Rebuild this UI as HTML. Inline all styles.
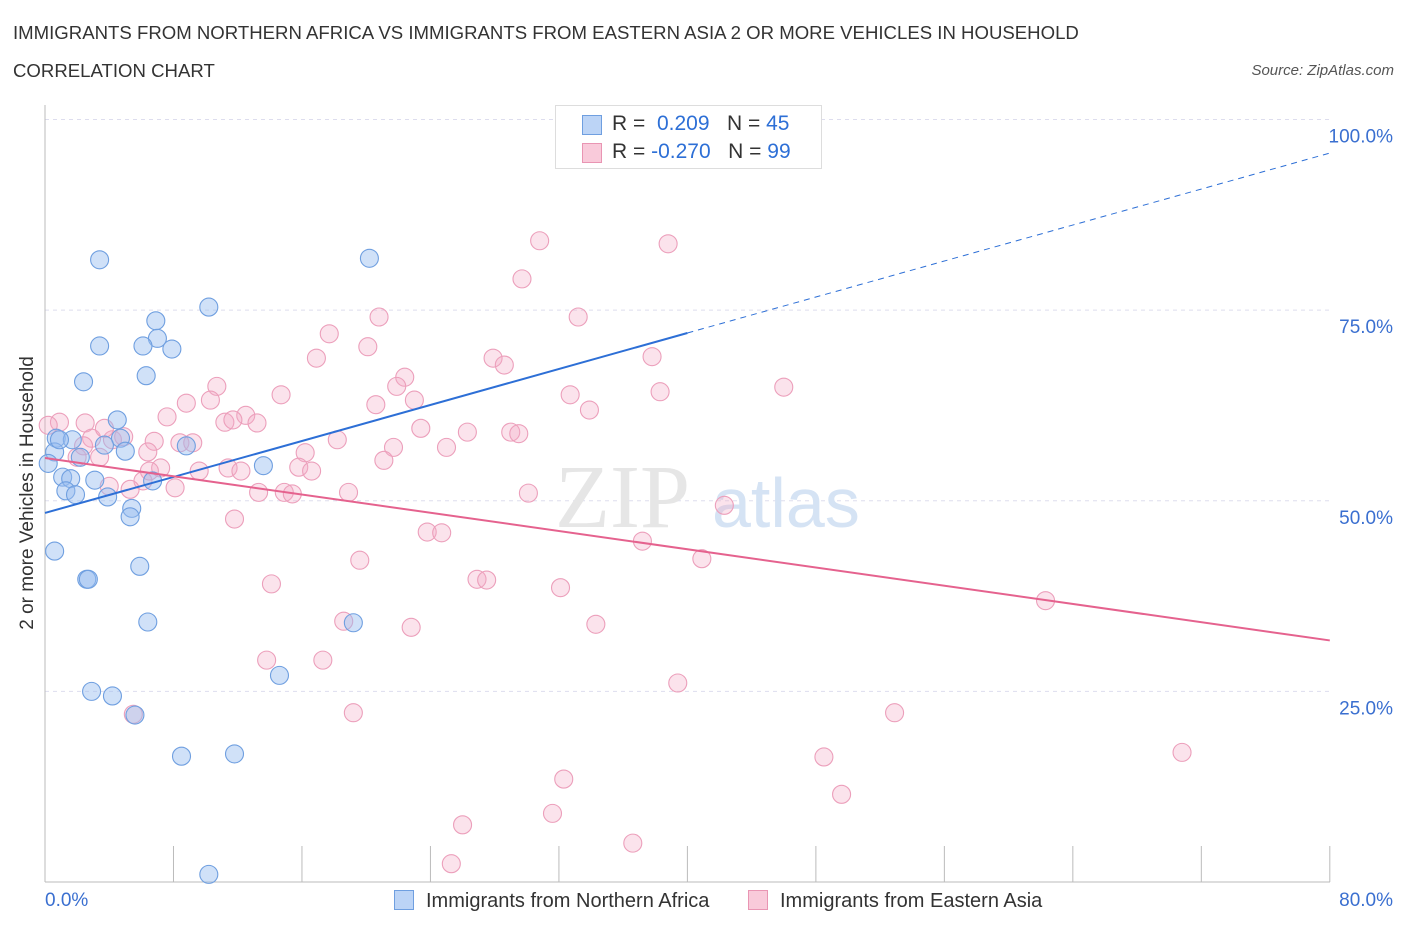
<!DOCTYPE html>
<html><head><meta charset="utf-8">
<style>
body{margin:0;background:#fff;font-family:"Liberation Sans",sans-serif;}
.t{position:absolute;color:#333;}
</style></head>
<body>
<div style="position:relative;width:1406px;height:930px;overflow:hidden">
<div class="t" style="left:13px;top:22px;font-size:18.6px;">IMMIGRANTS FROM NORTHERN AFRICA VS IMMIGRANTS FROM EASTERN ASIA 2 OR MORE VEHICLES IN HOUSEHOLD</div>
<div class="t" style="left:13px;top:60px;font-size:18.6px;">CORRELATION CHART</div>
<div class="t" style="right:12px;top:62px;font-size:15px;font-style:italic;color:#555">Source: ZipAtlas.com</div>
<svg id="svg" width="1406" height="930" style="position:absolute;left:0;top:0"></svg>
</div>
<script>
const xTicks=[0,8,16,24,32,40,48,56,64,72,80];
const yTicks=[25,50,75,100];
const yTickLabels=["25.0%","50.0%","75.0%","100.0%"];
const blueX=[3.4,20.2,10.2,6.9,7.0,3.4,6.1,7.9,2.4,6.3,4.5,0.7,1.7,4.7,3.7,0.6,5.0,2.2,0.2,13.6,1.1,1.6,3.1,6.7,1.3,1.9,3.9,5.4,5.3,0.6,5.9,2.6,2.7,6.4,19.2,14.6,2.9,4.2,5.6,8.5,11.8,10.2,8.8,0.9,39.4];
const blueY=[81.6,81.8,75.4,73.6,71.3,70.3,70.3,69.9,65.6,66.4,60.6,58.2,58.0,58.2,57.3,56.4,56.5,55.7,54.9,54.6,53.1,52.9,52.7,52.6,51.3,50.8,50.5,49.0,47.9,43.4,41.4,39.7,39.7,34.1,34.0,27.1,25.0,24.4,21.9,16.5,16.8,1.0,57.2,58.0,100];
const pinkX=[30.8,38.8,29.7,33.2,20.8,17.7,20.1,27.9,16.9,28.6,37.8,22.4,21.9,46.0,10.7,38.3,32.7,14.7,23.0,20.6,8.8,10.3,33.9,7.6,12.5,13.2,11.2,2.5,0.9,0.2,23.4,26.3,29.0,29.5,6.8,18.2,8.4,9.2,2.9,4.2,4.9,6.4,21.7,25.0,16.2,3.4,2.0,21.1,7.2,15.8,11.4,16.6,9.6,12.2,6.1,8.1,5.3,13.3,14.9,15.4,18.9,30.1,42.3,11.8,23.8,24.7,37.2,40.9,19.6,14.1,26.9,27.5,32.1,62.3,18.6,22.8,34.3,13.8,17.3,39.4,19.2,52.9,5.5,70.8,48.5,32.3,49.6,26.0,31.6,36.6,25.3,43.1,11.7,2.4,4.0,3.7,6.5];
const pinkY=[84.1,83.7,79.1,74.1,74.1,71.9,70.2,68.7,68.7,67.8,68.9,66.2,65.0,64.9,65.0,64.3,63.9,63.9,63.2,62.6,62.8,63.2,61.9,61.0,61.2,60.2,60.3,60.2,60.3,59.9,59.5,59.0,59.0,58.8,57.8,58.0,57.6,57.6,58.2,58.0,58.4,56.4,57.0,57.0,56.3,55.7,55.7,55.3,54.3,54.4,54.3,53.9,53.9,53.9,52.6,51.7,51.5,51.1,51.1,50.9,51.1,51.0,49.4,47.6,45.9,45.8,44.7,42.4,42.2,39.1,39.7,39.6,38.6,36.9,34.2,33.4,33.8,29.1,29.1,26.1,22.2,22.2,22.0,17.0,16.4,13.5,11.5,7.5,9.0,5.1,2.4,100,60.6,57.2,51.9,59.5,53.9];
const blueTrend=[48.4,0.59]; // intercept, slope
const pinkTrend=[55.6,-0.299];
const NS='http://www.w3.org/2000/svg';
const svg=document.getElementById('svg');
const X=v=>45+v*16.06, Y=v=>882-v*7.625;
function mk(t,a,p){const e=document.createElementNS(NS,t);for(const k in a)e.setAttribute(k,a[k]);(p||svg).appendChild(e);return e;}
yTicks.forEach((v,i)=>{
 const g=mk('line',{x1:45,x2:1330,y1:Y(v),y2:Y(v),stroke:'#dde',"stroke-dasharray":'4,4'});
 
 
 const t=mk('text',{x:1393,y:Y(v)+23,"text-anchor":'end',fill:'#3a6fd0',"font-size":19});
 t.textContent=yTickLabels[i];
 
 
});
let ax=mk('line',{x1:45,x2:1330,y1:882,y2:882,stroke:'#bbb'});


let ay=mk('line',{x1:45,x2:45,y1:105,y2:882,stroke:'#bbb'});


xTicks.forEach(v=>{const l=mk('line',{x1:X(v),x2:X(v),y1:846,y2:882,stroke:'#bbb'});
 
 });
let wm=mk('text',{x:555,y:527,fill:'#e6e6e6',"font-size":90,"font-family":'Liberation Serif'});wm.textContent='ZIP';


let wm2=mk('text',{x:712,y:527,fill:'#d5e3f4',"font-size":70});wm2.textContent='atlas';


function pts(xs,ys,fill,stroke,name){xs.forEach((x,i)=>{const c=mk('circle',{cx:X(x),cy:Y(ys[i]),r:9,fill:fill,stroke:stroke,"stroke-width":1.1});
 
 });}
pts(pinkX,pinkY,'rgba(244,170,196,0.33)','#ec9fbb','pink-point');
pts(blueX,blueY,'rgba(150,188,240,0.45)','#6f9fe0','blue-point');
let bl=mk('line',{x1:X(0),y1:Y(blueTrend[0]),x2:X(40),y2:Y(blueTrend[0]+blueTrend[1]*40),stroke:'#2d6fd6',"stroke-width":2});


let bd=mk('line',{x1:X(40),y1:Y(blueTrend[0]+blueTrend[1]*40),x2:X(80),y2:Y(blueTrend[0]+blueTrend[1]*80),stroke:'#2d6fd6',"stroke-width":1,"stroke-dasharray":'6,5'});


let pl=mk('line',{x1:X(0),y1:Y(pinkTrend[0]),x2:X(80),y2:Y(pinkTrend[0]+pinkTrend[1]*80),stroke:'#e5628e',"stroke-width":2});


</script>
<div style="position:absolute;left:555px;top:105px;width:265px;height:62px;border:1px solid #ddd;background:#fff;font-size:21px;">
 <div style="position:absolute;left:26px;top:9px;width:18px;height:18px;background:#bcd4f6;border:1px solid #6f9fe0"></div>
 <div style="position:absolute;left:56px;top:6px;color:#333">R = <span style="color:#2d6fd6">&nbsp;0.209</span>&nbsp;&nbsp;&nbsp;N = <span style="color:#2d6fd6">45</span></div>
 <div style="position:absolute;left:26px;top:37px;width:18px;height:18px;background:#f9cada;border:1px solid #e995b3"></div>
 <div style="position:absolute;left:56px;top:34px;color:#333">R = <span style="color:#2d6fd6">-0.270</span>&nbsp;&nbsp;&nbsp;N = <span style="color:#2d6fd6">99</span></div>
</div>
<div class="t" style="left:45px;top:890px;font-size:19px;color:#3a6fd0">0.0%</div>
<div class="t" style="right:13px;top:890px;font-size:19px;color:#3a6fd0">80.0%</div>
<div style="position:absolute;left:394px;top:890px;font-size:20px;color:#333"><span style="display:inline-block;width:18px;height:18px;background:#bcd4f6;border:1px solid #6f9fe0;vertical-align:-3px;margin-right:12px"></span>Immigrants from Northern Africa</div>
<div style="position:absolute;left:748px;top:890px;font-size:20px;color:#333"><span style="display:inline-block;width:18px;height:18px;background:#f9cada;border:1px solid #e995b3;vertical-align:-3px;margin-right:12px"></span>Immigrants from Eastern Asia</div>
<div style="position:absolute;left:28px;top:493px;font-size:19px;color:#333;transform:translate(-50%,-50%) rotate(-90deg);white-space:nowrap">2 or more Vehicles in Household</div>
</body></html>
